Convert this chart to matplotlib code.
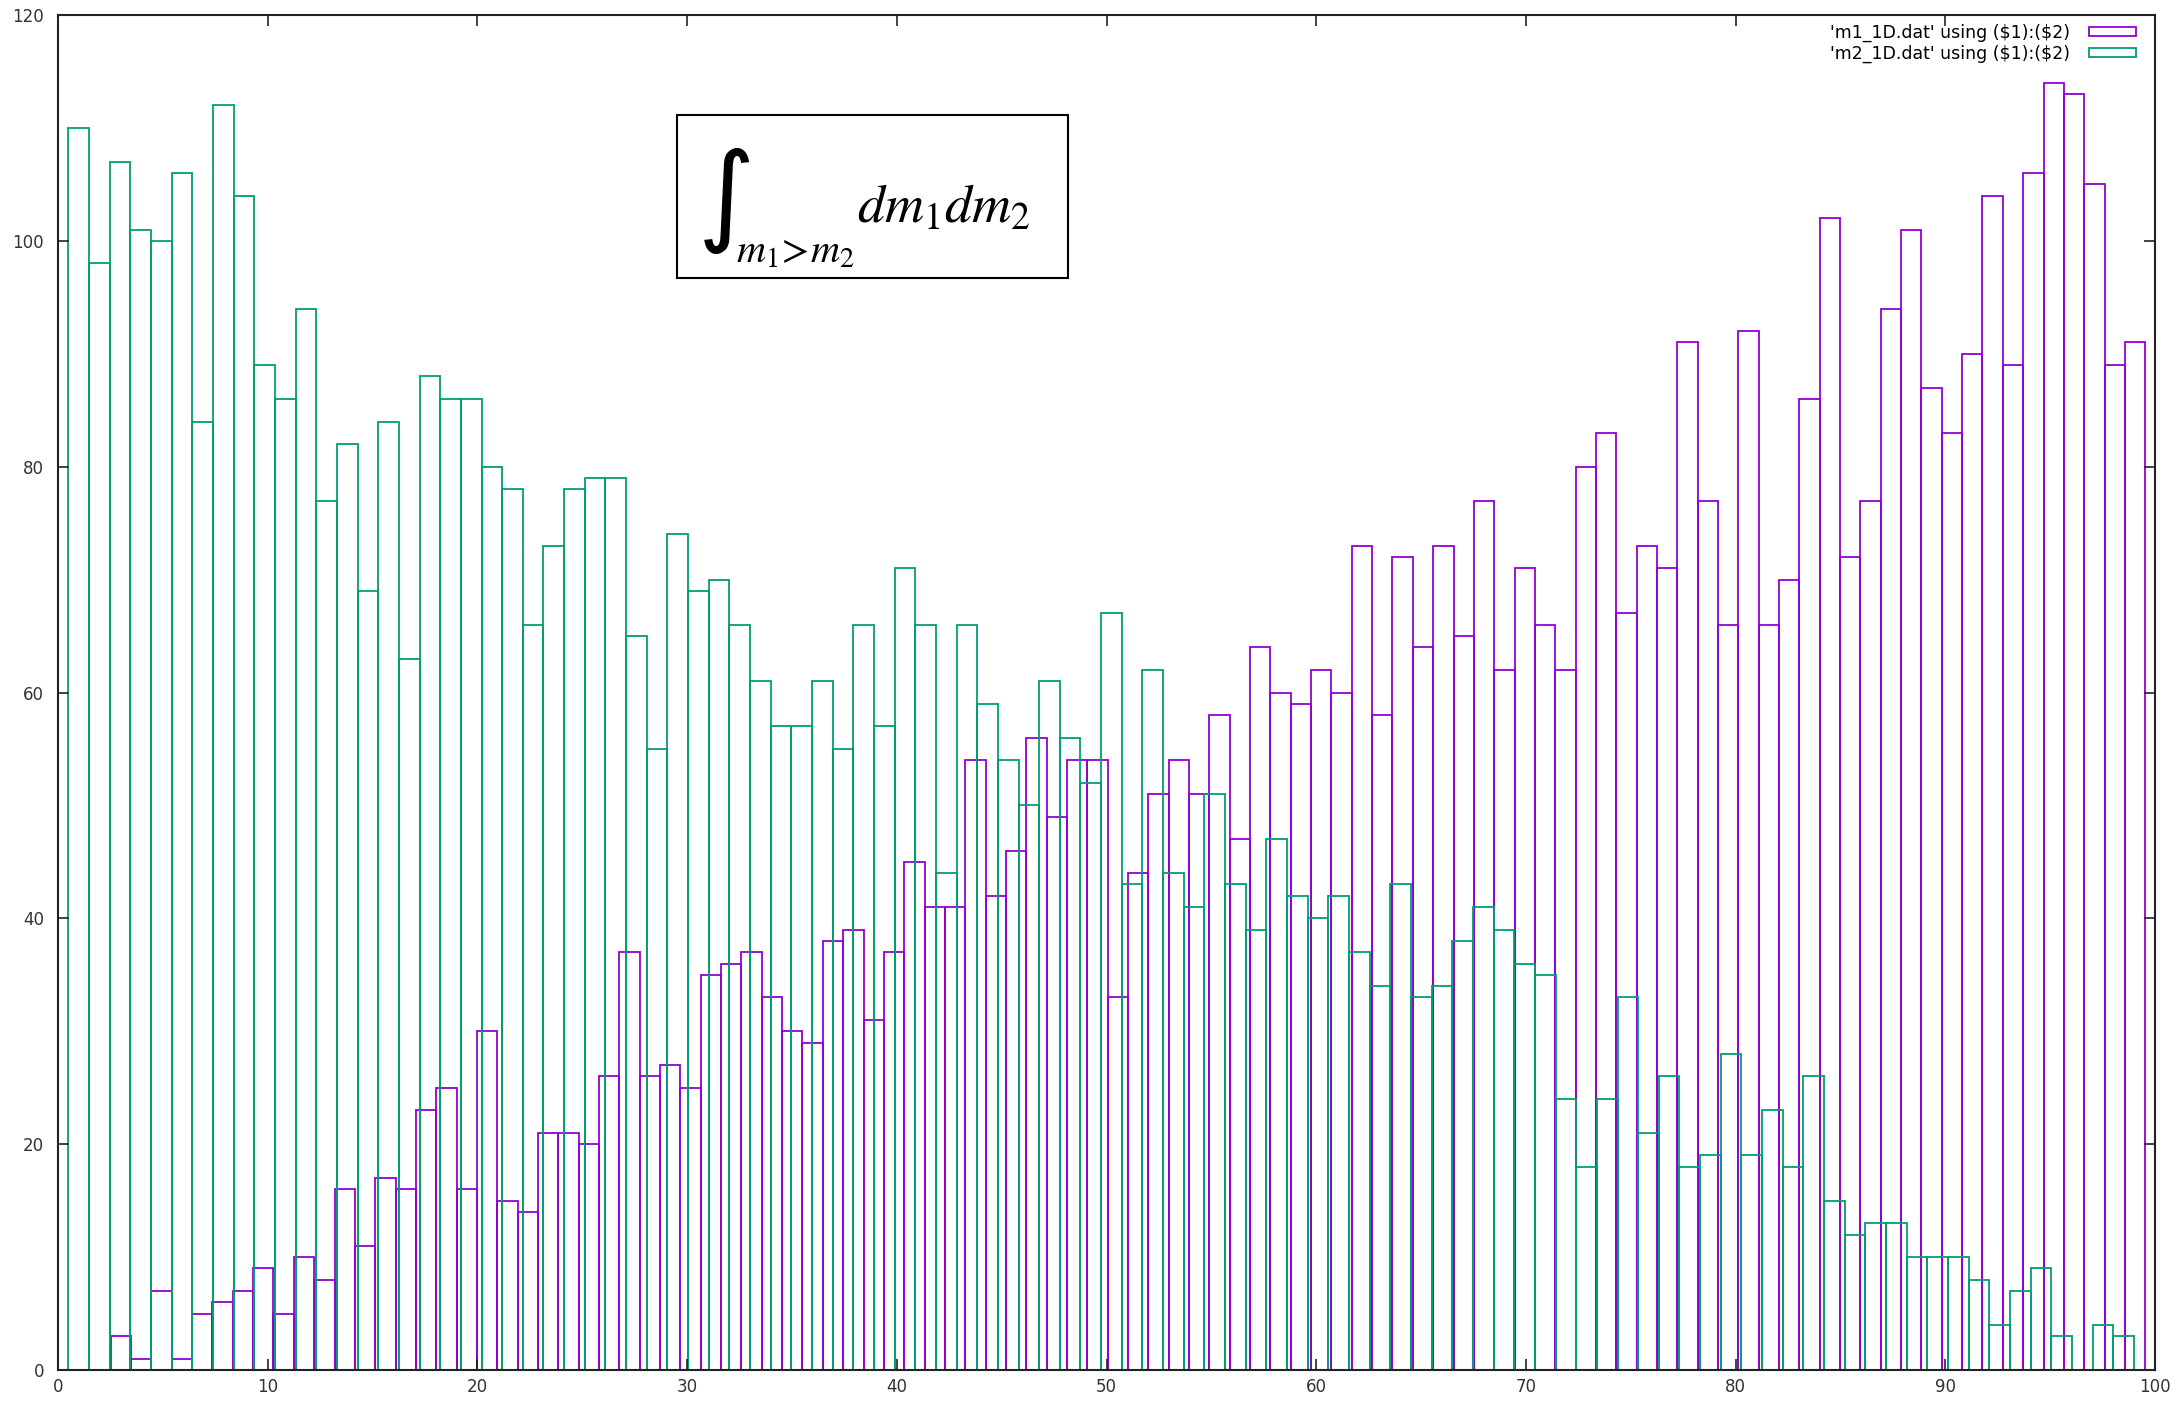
import numpy as np
import matplotlib.pyplot as plt
from matplotlib.patches import Rectangle

plt.rcParams['mathtext.fontset'] = 'stix'
plt.rcParams['font.family'] = 'DejaVu Sans'

# histogram counts per bin, 100 bins each
m1_counts = [3, 1, 7, 1, 5, 6, 7, 9, 5, 10, 8,
             16, 11, 17, 16, 23, 25, 16, 30, 15, 14, 21, 21, 20, 26, 37,
             26, 27, 25, 35, 36, 37, 33, 30, 29, 38, 39, 31, 37, 45, 41,
             41, 54, 42, 46, 56, 49, 54, 54, 33, 44, 51, 54, 51, 58, 47,
             64, 60, 59, 62, 60, 73, 58, 72, 64, 73, 65, 77, 62, 71, 66,
             62, 80, 83, 67, 73, 71, 91, 77, 66, 92, 66, 70, 86, 102, 72,
             77, 94, 101, 87, 83, 90, 104, 89, 106, 114, 113, 105, 89, 91]
m2_counts = [110, 98, 107, 101, 100, 106, 84, 112, 104, 89, 86, 94, 77,
             82, 69, 84, 63, 88, 86, 86, 80, 78, 66, 73, 78, 79, 79,
             65, 55, 74, 69, 70, 66, 61, 57, 57, 61, 55, 66, 57, 71, 66,
             44, 66, 59, 54, 50, 61, 56, 52, 67, 43, 62, 44, 41, 51, 43,
             39, 47, 42, 40, 42, 37, 34, 43, 33, 34, 38, 41, 39, 36,
             35, 24, 18, 24, 33, 21, 26, 18, 19, 28, 19, 23, 18, 26, 15,
             12, 13, 13, 10, 10, 10, 8, 4, 7, 9, 3, 0, 4, 3]

# bin centres (first and last bin of each file)
m1_range = (3.0, 99.05)
m2_range = (0.99, 98.5)

m1_x = np.linspace(*m1_range, len(m1_counts))
m2_x = np.linspace(*m2_range, len(m2_counts))

W, H = 2177, 1404
fig = plt.figure(figsize=(W / 100, H / 100), dpi=100)
ax = fig.add_axes([58 / W, 1 - 1370 / H, 2097 / W, 1355 / H])

ax.bar(m1_x, m1_counts, width=m1_x[1] - m1_x[0], fill=False,
       edgecolor='#9400D3', linewidth=1.3,
       label=r"'m1_1D.dat' using (\$1):(\$2)")
ax.bar(m2_x, m2_counts, width=m2_x[1] - m2_x[0], fill=False,
       edgecolor='#009E73', linewidth=1.3,
       label=r"'m2_1D.dat' using (\$1):(\$2)")

ax.set_xlim(0, 100)
ax.set_ylim(0, 120)
ax.set_xticks(range(0, 101, 10))
ax.set_yticks(range(0, 121, 20))
ax.tick_params(direction='in', top=True, right=True, length=8, width=1.2,
               color='#222222', labelcolor='#333333', labelsize=12)
ax.tick_params(axis='x', pad=6)
ax.tick_params(axis='y', pad=10)
for spine in ax.spines.values():
    spine.set_linewidth(1.5)
    spine.set_color('#222222')

ax.legend(loc='upper right', bbox_to_anchor=(0.995, 1), frameon=False,
          markerfirst=False, fontsize=12.5, handlelength=2.7,
          handleheight=0.45, labelspacing=0.15, borderaxespad=0.3,
          borderpad=0.2, handletextpad=1.1)

# integral label in a boxed inset
fig.add_artist(Rectangle((677 / W, 1 - 278 / H), 391 / W, 163 / H,
                         transform=fig.transFigure, facecolor='white',
                         edgecolor='black', linewidth=1.5))
fig.text(724 / W, 1 - 201 / H, r'$\int$', fontsize=56, ha='center',
         va='center', math_fontfamily='dejavusans')
fig.text(736 / W, 1 - 263 / H, r'$m_1\!>\!m_2$', fontsize=29,
         ha='left', va='baseline')
fig.text(857 / W, 1 - 223 / H, r'$dm_1dm_2$', fontsize=39,
         ha='left', va='baseline')

fig.savefig('out.png', dpi=100)
